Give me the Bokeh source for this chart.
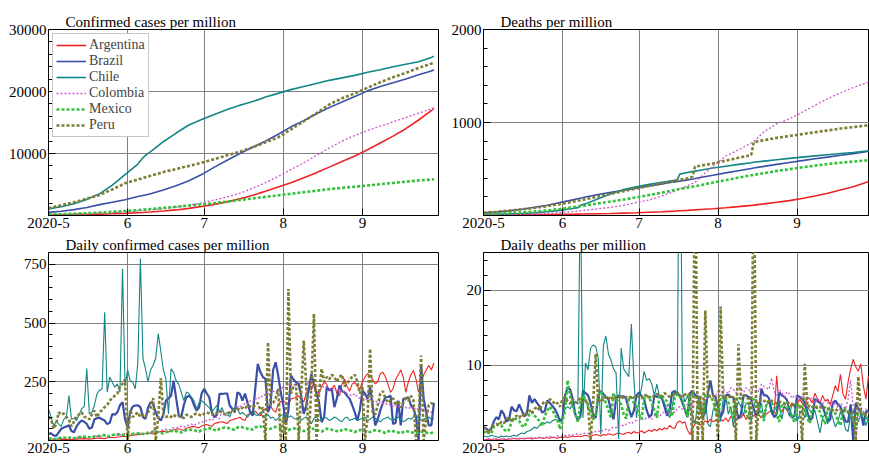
from bokeh.plotting import figure
from bokeh.layouts import row, column
from bokeh.models import FixedTicker, Range1d, Legend, LegendItem
from bokeh.embed import file_html
from bokeh.resources import INLINE

# ---------------- data ----------------
COUNTRIES = ["Argentina", "Brazil", "Chile", "Colombia", "Mexico", "Peru"]
MONTH_TICKS = [0, 31, 61, 92, 123]          # days since 2020-05-01
MONTH_LABELS = ["2020-5", "6", "7", "8", "9"]

# cumulative series sampled on these days (days since 2020-05-01)
CUM_DAYS = [0, 5, 10, 15, 20, 25, 30, 35, 37, 38, 40, 45, 50, 55, 60, 65, 70, 75, 76, 77,
            80, 82, 83, 85, 90, 95, 100, 105, 106, 110, 115, 120, 125, 130, 135, 140, 145, 150, 151]

cases_argentina = [100, 115, 140, 170, 220, 280, 350, 450, 490, 515, 560, 720, 900, 1150, 1450, 1800, 2200, 2700, 2800, 2900,
                   3250, 3500, 3650, 3900, 4600, 5300, 6100, 6900, 7080, 7800, 8700, 9600, 10600, 11700, 12800, 14000, 15400, 16900, 17300]
cases_brazil = [500, 680, 950, 1300, 1750, 2150, 2550, 3050, 3230, 3320, 3500, 4100, 4800, 5600, 6600, 7800, 8900, 10000, 10200, 10400,
                11000, 11400, 11600, 12000, 13100, 14300, 15300, 16400, 16600, 17400, 18300, 19200, 20100, 20800, 21400, 22000, 22700, 23300, 23500]
cases_chile = [1070, 1400, 1900, 2600, 3500, 4900, 6600, 8300, 9300, 9700, 10300, 11900, 13300, 14600, 15500, 16300, 17100, 17800, 17920, 18040,
               18400, 18650, 18780, 19100, 19700, 20300, 20800, 21300, 21400, 21800, 22200, 22600, 23100, 23500, 24000, 24400, 24800, 25500, 25700]
cases_colombia = [150, 190, 240, 300, 380, 470, 580, 720, 790, 830, 900, 1100, 1350, 1650, 2050, 2500, 3000, 3600, 3750, 3900,
                  4400, 4750, 4920, 5300, 6300, 7400, 8500, 9700, 9940, 10900, 12000, 12900, 13700, 14400, 15100, 15800, 16500, 17200, 17350]
cases_mexico = [160, 220, 290, 370, 470, 590, 720, 870, 935, 970, 1040, 1220, 1410, 1600, 1800, 2000, 2250, 2500, 2550, 2600,
                2750, 2850, 2900, 3000, 3250, 3500, 3750, 4000, 4050, 4250, 4450, 4650, 4850, 5050, 5250, 5450, 5650, 5800, 5850]
cases_peru = [1200, 1650, 2150, 2700, 3300, 4200, 5200, 5800, 6050, 6170, 6400, 7000, 7500, 8000, 8500, 9100, 9700, 10300, 10440, 10580,
              11000, 11320, 11480, 11800, 12600, 13900, 15200, 16500, 16780, 17900, 18900, 19700, 20600, 21500, 22300, 23000, 23800, 24500, 24650]

deaths_argentina = [5, 6, 7, 8, 9, 10, 12, 14, 15, 15.5, 16, 19, 22, 26, 30, 35, 40, 47, 49, 51,
                    55, 59, 61, 64, 72, 83, 95, 109, 112, 125, 142, 160, 183, 210, 240, 275, 310, 355, 365]
deaths_brazil = [28, 38, 50, 68, 88, 110, 140, 168, 180, 186, 198, 225, 250, 272, 295, 318, 340, 362, 366, 370,
                 383, 392, 397, 408, 432, 458, 482, 505, 510, 528, 550, 570, 590, 610, 628, 648, 665, 685, 690]
deaths_chile = [13, 15, 18, 22, 30, 40, 55, 75, 85, 110, 125, 180, 235, 280, 310, 335, 357, 378, 385, 445,
                462, 472, 477, 487, 510, 530, 550, 568, 572, 585, 600, 614, 628, 641, 654, 666, 678, 692, 695]
deaths_colombia = [5, 7, 9, 12, 16, 21, 32, 42, 47, 50, 58, 72, 88, 110, 140, 168, 210, 260, 272, 285,
                   320, 345, 360, 410, 530, 640, 705, 780, 795, 900, 985, 1040, 1110, 1185, 1255, 1320, 1375, 1425, 1433]
deaths_mexico = [13, 18, 25, 33, 42, 55, 70, 88, 96, 100, 108, 130, 150, 172, 195, 220, 245, 275, 280, 285,
                 300, 310, 315, 325, 355, 380, 408, 432, 437, 455, 478, 498, 518, 536, 553, 568, 580, 592, 595]
deaths_peru = [29, 40, 52, 66, 82, 100, 122, 148, 158, 163, 175, 205, 235, 262, 290, 318, 345, 372, 378, 384,
               400, 418, 527, 535, 560, 590, 620, 650, 788, 810, 835, 855, 875, 895, 915, 935, 950, 968, 975]

# daily series, one value per day from 2020-05-01 (May, Jun, Jul, Aug, Sep)
daily_cases_argentina = (
    [3, 3, 2, 2, 3, 4, 5, 5, 5, 4, 4, 6, 7, 7, 8, 7, 6, 7, 9, 10, 10, 9, 8, 12, 13, 14, 12, 15, 16, 18, 17]
    + [18, 20, 22, 24, 25, 26, 28, 30, 32, 30, 28, 33, 35, 38, 40, 38, 36, 42, 45, 48, 50, 46, 44, 52, 55, 58, 60, 56, 54, 62]
    + [65, 68, 64, 60, 72, 75, 78, 80, 76, 72, 85, 88, 92, 95, 99, 90, 85, 110, 115, 120, 125, 113, 105, 130, 135, 140, 145, 130, 120, 155, 165]
    + [170, 160, 150, 177, 180, 185, 190, 175, 165, 200, 226, 215, 248, 210, 200, 230, 248, 240, 210, 220, 235, 200, 190, 240, 262, 230, 210, 241, 248, 230, 220]
    + [250, 270, 284, 275, 260, 241, 250, 284, 290, 270, 240, 205, 220, 260, 280, 300, 270, 205, 250, 280, 298, 260, 205, 250, 280, 300, 319, 300, 330])
daily_cases_brazil = (
    [28, 30, 22, 20, 35, 50, 55] + [60, 65, 40, 35, 60, 75, 85] + [80, 70, 50, 55, 90, 95, 97]
    + [90, 85, 70, 75, 113, 110, 120] + [150, 163, 90, 57, 120, 145, 149] + [150, 142, 100, 92, 140, 163, 155]
    + [120, 95, 85, 110, 170, 180, 190] + [255, 180, 110, 99, 150, 184, 191] + [180, 150, 128, 140, 200, 220, 200]
    + [184, 120, 99, 110, 198, 198, 200] + [200, 149, 135, 120, 205, 198, 170] + [200, 160, 120, 106, 220, 326, 291]
    + [270, 262, 121, 150, 300, 333, 276] + [205, 150, 70, 130, 276, 260, 248] + [240, 190, 113, 150, 220, 283, 240]
    + [200, 160, 78, 100, 226, 215, 220] + [142, 180, 234, 210, 205, 190, 177] + [150, 120, 85, 130, 212, 200, 177]
    + [226, 150, 64, 90, 128, 160, 184] + [185, 191, 70, 75, 170, 64, 177] + [180, 184, 150, 135, 100, 0, 319]
    + [177, 120, 64, 64, 160])
daily_cases_chile = (
    [136, 100, 64, 80, 70, 60, 90, 100, 191, 90, 95, 85, 110, 135, 145, 306, 113, 120, 150, 199, 213, 220, 546, 206, 270, 248, 227, 241, 206, 731, 230]
    + [300, 255, 248, 220, 330, 774, 350, 305, 250, 300, 320, 350, 455, 380, 300, 262, 113, 305, 290, 255, 240, 206, 170, 206, 200, 184, 170, 135, 160, 170]
    + [160, 149, 140, 120, 135, 150, 120, 140, 110, 120, 100, 130, 140, 135, 113, 120, 110, 99, 115, 127, 110, 106, 120, 100, 99, 110, 95, 100, 85, 95, 106]
    + [110, 100, 99, 105, 95, 90, 100, 85, 95, 100, 90, 71, 95, 100, 85, 90, 100, 95, 85, 90, 100, 95, 85, 80, 95, 100, 85, 90, 95, 85, 90]
    + [95, 100, 85, 90, 100, 95, 85, 80, 90, 95, 100, 90, 85, 95, 100, 90, 80, 85, 95, 90, 100, 105, 95, 85, 90, 95, 100, 90, 94])
daily_cases_colombia = (
    [6, 7, 8, 9, 8, 10, 9, 10, 11, 12, 10, 12, 13, 14, 12, 15, 16, 14, 17, 18, 16, 19, 20, 18, 22, 23, 21, 25, 24, 26, 28]
    + [22, 25, 28, 26, 30, 32, 29, 34, 36, 33, 38, 40, 37, 42, 45, 48, 44, 50, 55, 52, 58, 60, 56, 62, 65, 70, 64, 72, 75, 80]
    + [78, 85, 90, 84, 95, 100, 92, 127, 110, 105, 120, 130, 125, 140, 150, 135, 160, 156, 170, 165, 180, 175, 190, 185, 200, 199, 195, 210, 205, 220, 215]
    + [230, 225, 240, 235, 241, 230, 245, 240, 250, 235, 248, 240, 245, 230, 240, 235, 225, 230, 220, 215, 225, 210, 220, 205, 210, 200, 195, 190, 200, 185, 180]
    + [177, 180, 170, 175, 165, 170, 160, 165, 156, 160, 150, 155, 145, 150, 140, 150, 145, 140, 135, 145, 130, 140, 130, 135, 125, 130, 127, 120, 125])
daily_cases_mexico = (
    [8, 9, 7, 6, 10, 11, 12, 12, 13, 10, 9, 13, 15, 16, 16, 17, 14, 13, 18, 19, 20, 22, 23, 19, 18, 23, 26, 27, 25, 24, 22]
    + [21, 25, 28, 30, 30, 32, 28, 26, 32, 35, 38, 37, 36, 33, 30, 36, 38, 40, 42, 40, 36, 34, 40, 44, 45, 46, 45, 40, 38, 44]
    + [47, 50, 52, 50, 45, 42, 50, 52, 55, 53, 52, 48, 46, 55, 58, 56, 55, 50, 45, 48, 56, 58, 60, 55, 52, 48, 50, 55, 58, 56, 52]
    + [50, 46, 44, 50, 52, 50, 48, 45, 40, 42, 50, 52, 48, 46, 42, 38, 44, 50, 48, 46, 42, 40, 38, 45, 48, 46, 44, 40, 36, 42, 45]
    + [44, 40, 38, 36, 40, 44, 42, 40, 36, 32, 38, 42, 40, 38, 34, 30, 36, 40, 38, 36, 32, 30, 35, 38, 36, 34, 30, 32, 36])
daily_cases_peru = (
    [100, 90, 50, 70, 120, 110, 115, 100, 90, 60, 80, 106, 110, 120, 100, 100, 90, 110, 127, 99, 120, 130, 142, 150, 170, 180, 191, 200, 230, 241, 260]
    + [0, 130, 100, 110, 120, 100, 110, 100, 120, 140, 180, 0, 100, 265, 110, 100, 105, 100, 110, 100, 105, 100, 95, 110, 105, 100, 110, 115, 110, 105]
    + [115, 120, 115, 110, 120, 115, 125, 120, 110, 115, 120, 125, 130, 135, 130, 140, 135, 150, 145, 140, 150, 160, 130, 140, 0, 418, 150, 160, 180, 220, 0]
    + [100, 0, 645, 200, 230, 240, 0, 200, 425, 230, 0, 240, 539, 0, 200, 305, 250, 270, 260, 280, 270, 250, 270, 280, 230, 241, 260, 270, 280, 250, 200]
    + [230, 0, 100, 390, 120, 110, 150, 200, 210, 180, 160, 170, 180, 150, 170, 140, 160, 180, 170, 190, 170, 0, 80, 362, 0, 100, 150, 160, 150])

daily_deaths_argentina = (
    [0.1, 0.1, 0.2, 0.1, 0.2, 0.2, 0.1, 0.2, 0.2, 0.1, 0.2, 0.2, 0.3, 0.2, 0.2, 0.3, 0.2, 0.3, 0.3, 0.2, 0.3, 0.3, 0.4, 0.3, 0.3, 0.4, 0.3, 0.4, 0.4, 0.3, 0.4]
    + [0.4, 0.5, 0.4, 0.5, 0.6, 0.5, 0.6, 0.5, 0.6, 0.7, 0.6, 0.5, 0.7, 0.8, 0.7, 0.6, 0.8, 0.7, 0.9, 0.8, 0.7, 0.9, 1.0, 0.9, 0.8, 1.0, 1.1, 0.9, 1.2, 1.0]
    + [1.1, 1.3, 1.0, 1.2, 1.4, 1.2, 1.5, 1.3, 1.6, 1.4, 1.7, 1.5, 2.0, 1.7, 1.6, 2.4, 2.6, 2.3, 2.5, 1.4, 0.8, 1.6, 2.2, 2.5, 2.0, 2.3, 2.6, 2.4, 2.8, 2.5, 2.7]
    + [2.4, 2.8, 2.6, 3.0, 2.5, 3.2, 2.9, 2.7, 3.3, 3.0, 3.5, 2.8, 3.4, 3.6, 3.2, 3.8, 3.4, 3.0, 3.6, 3.5, 3.8, 4.0, 3.6, 8.6, 4.2, 3.8, 4.6, 4.0, 4.4, 5.0, 4.4]
    + [4.8, 5.5, 5.0, 4.5, 5.8, 5.5, 5.0, 6.3, 5.5, 5.0, 6.0, 5.2, 5.5, 4.8, 6.0, 7.3, 6.5, 8.8, 6.2, 5.5, 7.8, 9.5, 10.8, 9.8, 9.2, 10.2, 7.2, 5.5, 8.6])
daily_deaths_brazil = (
    [1.8, 1.6, 1.3, 1.5, 2.5, 3.1, 2.8] + [4.0, 3.5, 2.5, 2.8, 4.5, 4.0, 3.9] + [4.8, 4.0, 3.2, 3.5, 6.0, 5.0, 5.5]
    + [5.0, 4.5, 3.7, 3.9, 5.3, 5.0, 4.6] + [4.2, 3.5, 2.5, 3.0, 6.0, 7.0, 6.8] + [5.5, 3.5, 2.7, 3.2, 6.6, 6.3, 6.0]
    + [5.0, 3.5, 3.0, 6.0, 6.6, 6.2, 5.8] + [5.5, 4.0, 2.8, 5.5, 6.0, 5.8, 5.9] + [5.5, 4.2, 3.1, 4.0, 6.0, 6.4, 5.9]
    + [5.5, 4.0, 3.1, 3.5, 6.0, 5.8, 5.9] + [5.6, 4.5, 3.3, 4.0, 6.4, 6.6, 6.2] + [6.0, 5.0, 4.1, 3.1, 6.3, 6.6, 6.0]
    + [5.9, 5.0, 3.0, 3.8, 6.2, 8.0, 6.0] + [5.8, 4.5, 3.1, 3.8, 6.0, 6.1, 5.8] + [5.7, 4.5, 2.9, 3.5, 6.0, 6.0, 5.8]
    + [5.5, 4.2, 3.3, 3.8, 6.9, 6.0, 6.0] + [5.6, 4.0, 3.1, 3.5, 6.4, 6.0, 5.8] + [5.4, 4.0, 3.0, 3.3, 6.0, 5.8, 5.5]
    + [5.0, 3.8, 2.7, 3.0, 5.5, 5.2, 5.0] + [4.6, 3.5, 2.5, 2.8, 5.0, 5.3, 4.8] + [4.5, 3.5, 2.5, 2.5, 4.8, 0.0, 5.0]
    + [4.2, 3.8, 2.0, 3.8, 4.0])
daily_deaths_chile = (
    [0.6, 0.5, 0.5, 0.7, 0.6, 0.5, 0.4, 0.6, 0.5, 0.6, 0.5, 0.6, 0.7, 0.6, 0.8, 1.0, 0.9, 1.2, 1.3, 1.5, 1.8, 1.6, 2.0, 2.4, 2.2, 2.5, 2.3, 2.6, 2.8, 2.7, 2.5]
    + [3.0, 4.3, 4.5, 4.2, 5.0, 5.2, 4.8, 34, 3.0, 10.3, 9.4, 12.3, 12.7, 12.5, 11.0, 0.8, 12.6, 13.9, 11.5, 10.7, 9.5, 9.0, 0.2, 12.3, 9.5, 9.0, 8.5, 15.5, 8.0, 3.0]
    + [5.5, 7.0, 9.2, 8.0, 8.2, 7.5, 6.0, 7.5, 5.8, 5.5, 5.0, 4.0, 3.0, 4.5, 6.5, 6.0, 55, 6.5, 5.1, 6.0, 4.5, 3.3, 2.2, 5.0, 4.8, 3.0, 5.5, 2.2, 1.8, 4.0, 5.0]
    + [4.5, 2.5, 5.5, 6.0, 3.5, 4.5, 1.8, 4.0, 5.2, 4.5, 3.3, 5.0, 4.8, 2.5, 4.5, 5.5, 3.8, 5.0, 2.8, 4.8, 5.0, 3.5, 4.0, 4.5, 5.0, 2.8, 4.5, 4.2, 3.2, 5.0, 4.8]
    + [2.5, 3.5, 4.0, 3.0, 4.5, 4.0, 3.5, 4.0, 2.5, 1.0, 3.0, 3.5, 2.2, 4.0, 3.0, 1.8, 2.5, 3.8, 3.0, 1.5, 1.2, 3.5, 4.0, 3.0, 2.5, 3.5, 3.0, 2.0, 3.0])
daily_deaths_colombia = (
    [0.1, 0.1, 0.2, 0.1, 0.2, 0.2, 0.1, 0.2, 0.2, 0.2, 0.2, 0.3, 0.2, 0.3, 0.3, 0.2, 0.3, 0.3, 0.3, 0.4, 0.3, 0.4, 0.4, 0.3, 0.5, 0.4, 0.5, 0.5, 0.4, 0.6, 0.5]
    + [0.6, 0.7, 0.6, 0.8, 0.7, 0.8, 0.9, 0.8, 0.9, 1.0, 0.9, 1.1, 1.0, 1.2, 1.3, 1.1, 1.4, 1.5, 1.3, 1.6, 1.8, 1.7, 2.0, 2.1, 1.9, 2.2, 2.4, 2.2, 2.5, 2.7]
    + [2.6, 2.9, 2.7, 3.1, 3.0, 2.8, 3.3, 3.5, 3.2, 3.6, 3.8, 3.4, 3.9, 4.1, 3.7, 4.3, 4.5, 4.1, 4.6, 4.8, 4.4, 5.0, 5.2, 4.8, 5.4, 5.6, 5.1, 5.8, 5.9, 5.4, 6.0]
    + [6.5, 6.0, 6.8, 6.6, 6.2, 7.0, 6.8, 6.3, 7.2, 6.9, 6.4, 7.0, 6.8, 6.2, 7.3, 7.0, 6.5, 7.5, 7.2, 7.0, 6.8, 8.3, 6.5, 6.0, 6.8, 6.4, 5.8, 6.5, 6.2, 5.6, 6.0]
    + [5.8, 5.4, 6.0, 5.6, 5.0, 5.8, 5.5, 5.0, 5.6, 5.2, 4.8, 5.4, 5.0, 4.6, 5.2, 4.8, 4.4, 5.0, 4.6, 4.2, 5.5, 8.0, 4.5, 0.0, 4.0, 4.5, 3.8, 4.2, 3.6])
daily_deaths_mexico = (
    [1.0, 1.3, 1.0, 0.9, 1.8, 2.0, 2.2, 2.0, 1.5, 1.2, 1.4, 2.5, 3.0, 2.8, 2.6, 2.0, 1.8, 2.5, 3.5, 3.8, 3.3, 3.0, 2.5, 1.9, 3.2, 4.0, 4.5, 4.0, 3.5, 2.8, 1.5]
    + [2.5, 4.0, 8.0, 5.8, 4.5, 3.5, 2.5, 5.0, 6.0, 5.5, 4.5, 3.8, 2.8, 3.2, 6.0, 6.5, 5.8, 5.0, 4.0, 3.0, 6.3, 5.5, 5.2, 4.8, 3.5, 2.9, 5.5, 5.8, 5.0, 4.5]
    + [3.5, 2.8, 5.5, 6.0, 5.6, 5.0, 4.0, 3.0, 5.8, 6.0, 5.5, 5.2, 3.8, 3.2, 5.8, 6.2, 5.8, 5.5, 4.2, 3.2, 6.0, 6.2, 5.8, 5.5, 4.0, 3.3, 6.0, 6.1, 5.8, 5.3, 4.0]
    + [3.2, 5.8, 6.0, 5.6, 5.2, 4.0, 3.0, 5.5, 5.8, 5.5, 5.0, 3.8, 2.8, 5.2, 5.5, 5.2, 4.8, 3.5, 2.6, 5.0, 5.2, 5.0, 4.5, 3.4, 2.5, 4.8, 5.0, 4.6, 4.2, 3.2, 2.4]
    + [4.6, 4.8, 4.4, 4.0, 3.0, 2.3, 4.5, 4.6, 4.2, 3.8, 2.8, 2.2, 4.2, 4.4, 4.0, 3.6, 2.6, 2.0, 4.0, 4.2, 3.8, 3.4, 2.5, 1.8, 3.8, 4.0, 3.6, 3.2, 2.4])
daily_deaths_peru = (
    [1.8, 1.5, 1.0, 1.7, 2.0, 2.2, 2.0, 2.5, 2.3, 2.8, 3.1, 2.5, 3.0, 3.3, 3.0, 3.5, 3.2, 3.8, 4.0, 3.6, 4.2, 4.5, 4.0, 4.8, 5.2, 5.0, 5.5, 5.3, 4.8, 5.0, 4.5]
    + [5.5, 5.8, 5.2, 4.9, 5.5, 5.0, 5.3, 5.6, 5.0, 5.4, 4.8, 0.0, 5.0, 11.5, 5.0, 5.6, 5.3, 5.8, 5.5, 5.9, 5.4, 5.7, 5.6, 6.0, 5.5, 5.8, 5.6, 5.9, 5.7, 6.0]
    + [5.8, 5.6, 6.1, 5.9, 5.7, 6.0, 5.8, 6.2, 6.0, 5.9, 6.3, 6.1, 5.8, 6.0, 6.2, 6.4, 6.0, 5.8, 6.1, 6.3, 6.0, 0.0, 40, 0.0, 6.0, 0.0, 17.3, 6.0, 5.8, 6.0, 5.5]
    + [0.0, 17.8, 5.5, 5.8, 6.0, 5.6, 5.8, 0.0, 12.8, 5.5, 6.0, 5.8, 5.5, 0.0, 40, 0.0, 5.0, 5.5, 5.2, 5.4, 5.0, 5.3, 5.1, 4.9, 5.2, 5.0, 4.8, 5.1, 4.9, 4.7, 5.0]
    + [4.8, 4.6, 0.0, 10.2, 4.5, 4.6, 4.4, 4.7, 4.3, 4.5, 4.2, 4.4, 4.1, 4.3, 4.0, 4.2, 3.9, 4.1, 3.8, 4.0, 3.7, 3.9, 3.6, 0.0, 8.5, 3.5, 3.7, 3.4, 3.6])

CUM_CASES = [cases_argentina, cases_brazil, cases_chile, cases_colombia, cases_mexico, cases_peru]
CUM_DEATHS = [deaths_argentina, deaths_brazil, deaths_chile, deaths_colombia, deaths_mexico, deaths_peru]
DAILY_CASES = [daily_cases_argentina, daily_cases_brazil, daily_cases_chile,
               daily_cases_colombia, daily_cases_mexico, daily_cases_peru]
DAILY_DEATHS = [daily_deaths_argentina, daily_deaths_brazil, daily_deaths_chile,
                daily_deaths_colombia, daily_deaths_mexico, daily_deaths_peru]

# ---------------- style ----------------
FONT = "'Liberation Serif', Times, serif"
COLORS = ["#ee2222", "#3a4fa8", "#138585", "#cc55cc", "#33c03a", "#7d7d35"]
DASH = ["solid", "solid", "solid", "2 2", "3 2", "3 2"]
W_CUM = [1.6, 1.6, 1.6, 1.3, 2.6, 2.6]
W_DAILY = [1.1, 2.2, 1.1, 1.3, 2.6, 2.6]
GRID = "#808080"


def make_fig(title, width, height, left, right, top, bottom, xmax, ymax, yticks, yminor):
    p = figure(width=width, height=height, output_backend="svg", toolbar_location=None,
               x_range=Range1d(0, xmax), y_range=Range1d(0, ymax),
               min_border_left=left, min_border_right=right,
               min_border_top=top, min_border_bottom=bottom)
    p.title.text = title
    p.title.align = "left"
    p.title.offset = 17
    p.title.standoff = 0
    p.title.text_font = FONT
    p.title.text_font_size = "15px"
    p.title.text_font_style = "normal"
    p.title.text_color = "black"
    p.background_fill_color = "white"
    p.border_fill_color = "white"
    p.outline_line_color = "black"
    p.outline_line_width = 1
    p.xaxis.ticker = FixedTicker(ticks=MONTH_TICKS, minor_ticks=[])
    p.xaxis.major_label_overrides = {t: l for t, l in zip(MONTH_TICKS, MONTH_LABELS)}
    p.yaxis.ticker = FixedTicker(ticks=yticks, minor_ticks=yminor)
    p.axis.axis_line_color = "black"
    p.axis.major_tick_in = 7
    p.axis.major_tick_out = 0
    p.axis.minor_tick_in = 4
    p.axis.minor_tick_out = 0
    p.axis.major_tick_line_color = "black"
    p.axis.minor_tick_line_color = "black"
    p.axis.major_label_text_font = FONT
    p.axis.major_label_text_font_size = "15px"
    p.axis.major_label_text_color = "black"
    p.axis.major_label_standoff = 2
    p.xgrid.ticker = FixedTicker(ticks=MONTH_TICKS)
    p.ygrid.ticker = FixedTicker(ticks=yticks)
    p.grid.grid_line_color = GRID
    p.grid.grid_line_width = 1
    return p


LEFT_X = 152.8
RIGHT_X = 151.4

p1 = make_fig("Confirmed cases per million", 445, 234, 48, 7, 29, 19, LEFT_X, 30000,
              [10000, 20000, 30000], [2000 * i for i in range(1, 15)])
p2 = make_fig("Deaths per million", 424, 234, 38, 0, 29, 19, RIGHT_X, 2000,
              [1000, 2000], [200 * i for i in range(1, 10)])
p3 = make_fig("Daily confirmed cases per million", 445, 223, 48, 7, 18, 17, LEFT_X, 800,
              [250, 500, 750], [50 * i for i in range(1, 16)])
p4 = make_fig("Daily deaths per million", 424, 223, 38, 0, 18, 17, RIGHT_X, 25,
              [10, 20], [2 * i for i in range(1, 13)])

items = []
for i, name in enumerate(COUNTRIES):
    r = p1.line(CUM_DAYS, CUM_CASES[i], line_color=COLORS[i], line_width=W_CUM[i], line_dash=DASH[i])
    items.append(LegendItem(label=name, renderers=[r]))
    p2.line(CUM_DAYS, CUM_DEATHS[i], line_color=COLORS[i], line_width=W_CUM[i], line_dash=DASH[i])
    p3.line(list(range(len(DAILY_CASES[i]))), DAILY_CASES[i], line_color=COLORS[i],
            line_width=W_DAILY[i], line_dash=DASH[i])
    p4.line(list(range(len(DAILY_DEATHS[i]))), DAILY_DEATHS[i], line_color=COLORS[i],
            line_width=W_DAILY[i], line_dash=DASH[i])

legend = Legend(items=items, location="top_left", margin=4, padding=3, spacing=0,
                glyph_width=30, glyph_height=10, label_height=10, label_standoff=3,
                label_text_font=FONT, label_text_font_size="14px", label_text_line_height=1.0,
                border_line_color="#909090", border_line_width=1,
                background_fill_color="white", background_fill_alpha=1.0)
p1.add_layout(legend)

layout = column(row(p1, p2), row(p3, p4))
open("out.html", "w").write(file_html(layout, INLINE))
